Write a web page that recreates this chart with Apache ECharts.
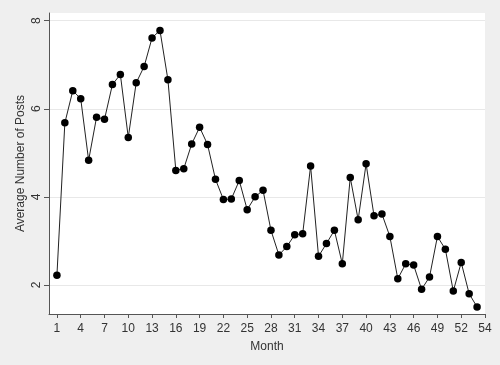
<!DOCTYPE html>
<html>
<head>
<meta charset="utf-8">
<script src="https://cdn.jsdelivr.net/npm/echarts@6/dist/echarts.min.js"></script>
<style>
html,body{margin:0;padding:0;background:#efefef;}
#chart{width:500px;height:365px;}
</style>
</head>
<body>
<div id="chart"></div>
<script>
var months = [1,2,3,4,5,6,7,8,9,10,11,12,13,14,15,16,17,18,19,20,21,22,23,24,25,26,27,28,29,30,31,32,33,34,35,36,37,38,39,40,41,42,43,44,45,46,47,48,49,50,51,52,53,54];
var avgPosts = [2.22,5.68,6.41,6.23,4.83,5.81,5.76,6.55,6.78,5.35,6.59,6.96,7.61,7.78,6.66,4.60,4.64,5.20,5.58,5.19,4.40,3.94,3.95,4.37,3.71,4.00,4.15,3.24,2.68,2.87,3.14,3.16,4.70,2.65,2.94,3.24,2.48,4.44,3.48,4.75,3.57,3.61,3.10,2.14,2.48,2.45,1.90,2.18,3.10,2.81,1.86,2.51,1.80,1.50];
var xTickValues = [1,4,7,10,13,16,19,22,25,28,31,34,37,40,43,46,49,52,55];
var xTickLabels = ['1','4','7','10','13','16','19','22','25','28','31','34','37','40','43','46','49','52','54'];
var yTickValues = [2,4,6,8];
var yTickLabels = ['2','4','6','8'];

var data = months.map(function(m, i){ return [m, avgPosts[i]]; });
var chart = echarts.init(document.getElementById('chart'), null, {renderer:'canvas'});
var font = 'Liberation Sans, Arial, sans-serif';
chart.setOption({
  backgroundColor: '#efefef',
  animation: false,
  grid: {left: 49, top: 13, right: 15, bottom: 51, show: true, backgroundColor: '#ffffff', borderWidth: 0},
  xAxis: {
    type: 'value', min: 0, max: 55,
    name: 'Month', nameLocation: 'middle', nameGap: 27, nameMoveOverlap: false,
    nameTextStyle: {fontFamily: font, fontSize: 12, color: '#333'},
    axisLine: {show: true, onZero: false, lineStyle: {color: '#555', width: 1}},
    axisTick: {show: true, length: 4, customValues: xTickValues, lineStyle: {color: '#555'}},
    axisLabel: {customValues: xTickValues, margin: 9, fontFamily: font, fontSize: 12, color: '#333',
      formatter: function(v){ var i = xTickValues.indexOf(v); return i >= 0 ? xTickLabels[i] : ''; }},
    splitLine: {show: false}
  },
  yAxis: {
    type: 'value', min: 1.34, max: 8.175,
    name: 'Average Number of Posts', nameLocation: 'middle', nameGap: 22, nameRotate: 90, nameMoveOverlap: false,
    nameTextStyle: {fontFamily: font, fontSize: 12, color: '#333'},
    axisLine: {show: true, onZero: false, lineStyle: {color: '#555', width: 1}},
    axisTick: {show: true, length: 5, customValues: yTickValues, lineStyle: {color: '#555'}},
    axisLabel: {customValues: yTickValues, rotate: 90, margin: 6, fontFamily: font, fontSize: 12, color: '#333',
      formatter: function(v){ var i = yTickValues.indexOf(v); return i >= 0 ? yTickLabels[i] : ''; }},
    splitLine: {show: true, lineStyle: {color: '#e8e8e8', width: 1}}
  },
  series: [{
    type: 'line', data: data,
    symbol: 'circle', symbolSize: 7.5,
    itemStyle: {color: '#000'},
    lineStyle: {color: '#222', width: 1}
  }]
});
</script>
</body>
</html>
